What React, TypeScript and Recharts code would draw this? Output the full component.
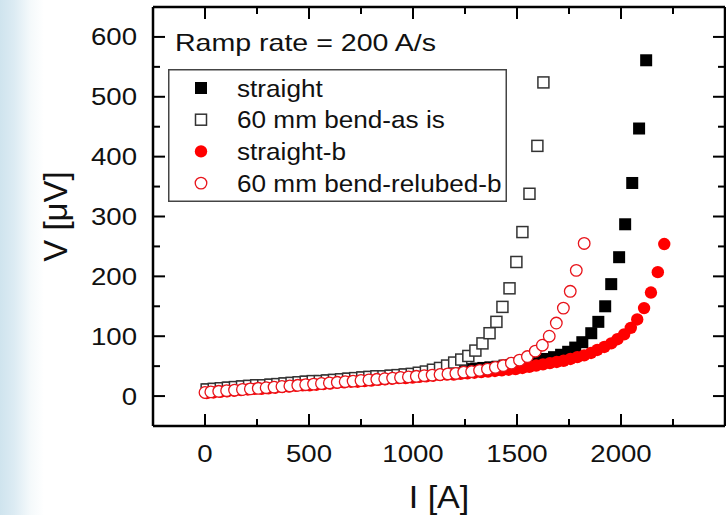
import { ScatterChart, Scatter, XAxis, YAxis, Legend } from "recharts"

type Pt = [number, number]

// [current I (A), voltage V (µV)]
const straight: Pt[] = [
  [12, 11], [46, 12], [80, 13], [114, 14], [148, 15], [182, 16], [216, 17], [250, 18], [284, 18], [318, 19],
  [352, 20], [386, 21], [420, 22], [454, 23], [488, 24], [522, 25], [556, 25], [590, 26], [624, 27], [658, 28],
  [692, 29], [726, 30], [760, 31], [794, 32], [828, 33], [862, 33], [896, 34], [930, 35], [964, 36], [998, 37],
  [1032, 38], [1066, 39], [1100, 40], [1134, 41], [1168, 42], [1202, 43], [1236, 44], [1270, 45], [1304, 46], [1338, 47],
  [1372, 48], [1406, 49], [1440, 51], [1474, 52], [1508, 54], [1542, 55], [1576, 57], [1610, 59], [1644, 62], [1678, 65],
  [1712, 69], [1746, 74], [1780, 81], [1814, 90], [1857, 105], [1891, 124], [1924, 150], [1953, 187], [1991, 232], [2020, 287],
  [2054, 356], [2087, 447], [2121, 561],
]

const bendAsIs: Pt[] = [
  [8, 11], [42, 12], [76, 13], [110, 14], [144, 15], [178, 16], [212, 17], [246, 18], [280, 18], [314, 19],
  [348, 20], [382, 21], [416, 22], [450, 23], [484, 24], [518, 25], [552, 25], [586, 26], [620, 27], [654, 28],
  [688, 29], [722, 30], [756, 31], [790, 32], [824, 33], [858, 33], [892, 34], [926, 35], [960, 36], [994, 37],
  [1028, 39], [1062, 41], [1096, 44], [1130, 47], [1164, 51], [1198, 56], [1232, 61], [1266, 67], [1300, 76], [1334, 88],
  [1368, 105], [1401, 124], [1430, 149], [1464, 180], [1497, 224], [1526, 274], [1560, 338], [1598, 418], [1627, 524],
]

const straightB: Pt[] = [
  [8, 5], [41, 6], [74, 7], [107, 8], [140, 9], [173, 10], [206, 11], [239, 12], [272, 12], [305, 13],
  [338, 14], [371, 15], [404, 16], [437, 17], [470, 18], [503, 18], [536, 19], [569, 20], [602, 21], [635, 22],
  [668, 23], [701, 24], [734, 24], [767, 25], [800, 26], [833, 27], [866, 28], [899, 29], [932, 30], [965, 30],
  [998, 31], [1031, 32], [1064, 33], [1097, 34], [1130, 35], [1163, 36], [1196, 36], [1229, 37], [1262, 38], [1295, 39],
  [1328, 40], [1361, 41], [1394, 42], [1427, 43], [1460, 44], [1493, 45], [1526, 47], [1559, 49], [1592, 51], [1625, 53],
  [1658, 55], [1691, 57], [1724, 59], [1757, 62], [1790, 65], [1823, 68], [1856, 72], [1886, 77], [1920, 82], [1953, 88],
  [1983, 95], [2015, 103], [2047, 114], [2078, 128], [2111, 147], [2144, 173], [2177, 207], [2208, 254],
]

const bendRelubedB: Pt[] = [
  [0, 6], [28, 7], [66, 8], [104, 9], [142, 10], [180, 11], [218, 12], [256, 13], [294, 14], [332, 15],
  [370, 16], [408, 17], [446, 18], [484, 19], [522, 20], [560, 21], [598, 22], [636, 23], [674, 24], [712, 25],
  [750, 26], [788, 27], [826, 28], [864, 29], [902, 30], [940, 31], [978, 32], [1016, 33], [1054, 34], [1092, 35],
  [1130, 36], [1168, 37], [1206, 38], [1244, 40], [1282, 41], [1320, 43], [1358, 45], [1396, 48], [1434, 51], [1473, 55],
  [1512, 60], [1550, 66], [1588, 75], [1622, 85], [1655, 100], [1689, 122], [1723, 147], [1756, 175], [1785, 210], [1823, 255],
]

const xTicks = [0, 250, 500, 750, 1000, 1250, 1500, 1750, 2000, 2250]
const xLabels = [0, 500, 1000, 1500, 2000]
const yTicks = [0, 50, 100, 150, 200, 250, 300, 350, 400, 450, 500, 550, 600]
const yLabels = [0, 100, 200, 300, 400, 500, 600]

const FONT = "'Liberation Sans', Arial, sans-serif"
const INK = "#111"

const toPoints = (pts: Pt[]) => pts.map(([i, v]) => ({ i, v }))

const BlackSquare = (p: any) => <rect x={p.cx - 6} y={p.cy - 6} width={12} height={12} fill="#000" />
const OpenSquare = (p: any) => (
  <rect x={p.cx - 5.5} y={p.cy - 5.5} width={11} height={11} fill="#fff" stroke="#333" strokeWidth={1.5} />
)
const RedDot = (p: any) => <circle cx={p.cx} cy={p.cy} r={6.2} fill="#ff0000" />
const OpenCircle = (p: any) => (
  <circle cx={p.cx} cy={p.cy} r={5.8} fill="#fff" stroke="#e8141b" strokeWidth={1.3} />
)

const series = [
  { name: "straight", data: straight, shape: BlackSquare },
  { name: "60 mm bend-as is", data: bendAsIs, shape: OpenSquare },
  { name: "straight-b", data: straightB, shape: RedDot },
  { name: "60 mm bend-relubed-b", data: bendRelubedB, shape: OpenCircle },
]

function BottomTick({ x, y, payload }: any) {
  const major = xLabels.includes(payload.value)
  return (
    <g>
      <line x1={x} x2={x} y1={y} y2={y - (major ? 12 : 7)} stroke="#000" strokeWidth={2} />
      {major && (
        <text transform={`translate(${x},${y + 36}) scale(1.15,1)`} textAnchor="middle"
          fontSize={24} fontFamily={FONT} fill={INK}>{payload.value}</text>
      )}
    </g>
  )
}

function TopTick({ x, y, payload }: any) {
  const major = xLabels.includes(payload.value)
  return <line x1={x} x2={x} y1={y} y2={y + (major ? 12 : 7)} stroke="#000" strokeWidth={2} />
}

function LeftTick({ x, y, payload }: any) {
  const major = yLabels.includes(payload.value)
  return (
    <g>
      <line x1={x} x2={x + (major ? 12 : 7)} y1={y} y2={y} stroke="#000" strokeWidth={2} />
      {major && (
        <text transform={`translate(${x - 16},${y + 8.5}) scale(1.15,1)`} textAnchor="end"
          fontSize={24} fontFamily={FONT} fill={INK}>{payload.value}</text>
      )}
    </g>
  )
}

function RightTick({ x, y, payload }: any) {
  const major = yLabels.includes(payload.value)
  return <line x1={x} x2={x - (major ? 12 : 7)} y1={y} y2={y} stroke="#000" strokeWidth={2} />
}

function XTitle(props: any) {
  const vb = props.viewBox ?? { x: 153, y: 426, width: 572, height: 1 }
  return (
    <text transform={`translate(${vb.x + vb.width / 2},${vb.y + 82}) scale(1.1,1)`} textAnchor="middle"
      fontSize={31} fontFamily={FONT} fill={INK}>I [A]</text>
  )
}

function YTitle(props: any) {
  const vb = props.viewBox ?? { x: 152, y: 7, width: 1, height: 419 }
  return (
    <text transform={`translate(${vb.x + vb.width - 86},${vb.y + vb.height / 2}) rotate(-90)`} textAnchor="middle"
      fontSize={33} fontFamily={FONT} fill={INK}>V [μV]</text>
  )
}

function LegendBox() {
  return (
    <svg width={360} height={190} style={{ display: "block" }}>
      <text transform="translate(15,31) scale(1.19,1)" fontSize={24} fontFamily={FONT} fill={INK}>
        Ramp rate = 200 A/s
      </text>
      <rect x={8.75} y={49.75} width={337.5} height={131.5} fill="#fff" stroke="#444" strokeWidth={1.5} />
      {series.map((s, k) => {
        const cy = 68 + k * 31.7
        const Shape = s.shape
        return (
          <g key={s.name}>
            <Shape cx={41} cy={cy} />
            <text transform={`translate(77,${cy + 8.5}) scale(1.09,1)`} fontSize={24} fontFamily={FONT} fill={INK}>
              {s.name}
            </text>
          </g>
        )
      })}
    </svg>
  )
}

const frame = { stroke: "#000", strokeWidth: 2.5 }

export default function App() {
  return (
    <div
      style={{
        position: "absolute", left: 0, top: 0, width: 726, height: 515,
        background: "linear-gradient(to right, #cfe4ee 0px, #dcebf3 14px, #f4f9fb 30px, #ffffff 44px)",
      }}
    >
      <ScatterChart width={726} height={515} margin={{ top: 6, right: 0, bottom: 88, left: 152 }}>
        <XAxis xAxisId="b" type="number" dataKey="i" domain={[-250, 2500]} ticks={xTicks} interval={0}
          allowDataOverflow height={1} tickSize={0} tickMargin={0} tickLine={false}
          axisLine={frame} tick={(p: any) => <BottomTick {...p} />} label={<XTitle />} />
        <XAxis xAxisId="t" orientation="top" type="number" dataKey="i" domain={[-250, 2500]} ticks={xTicks}
          interval={0} allowDataOverflow height={1} tickSize={0} tickMargin={0} tickLine={false}
          axisLine={frame} tick={(p: any) => <TopTick {...p} />} />
        <YAxis yAxisId="l" type="number" dataKey="v" domain={[-50, 650]} ticks={yTicks} interval={0}
          allowDataOverflow width={1} tickSize={0} tickMargin={0} tickLine={false}
          axisLine={frame} tick={(p: any) => <LeftTick {...p} />} label={<YTitle />} />
        <YAxis yAxisId="r" orientation="right" type="number" dataKey="v" domain={[-50, 650]} ticks={yTicks}
          interval={0} allowDataOverflow width={1} tickSize={0} tickMargin={0} tickLine={false}
          axisLine={frame} tick={(p: any) => <RightTick {...p} />} />
        {series.map((s) => (
          <Scatter key={s.name} name={s.name} xAxisId="b" yAxisId="l" data={toPoints(s.data)}
            shape={s.shape} isAnimationActive={false} />
        ))}
        <Legend layout="horizontal" verticalAlign="middle" align="center"
          wrapperStyle={{ position: "absolute", left: 160, top: 20, width: 360, height: 190 }}
          content={() => <LegendBox />} />
      </ScatterChart>
    </div>
  )
}
